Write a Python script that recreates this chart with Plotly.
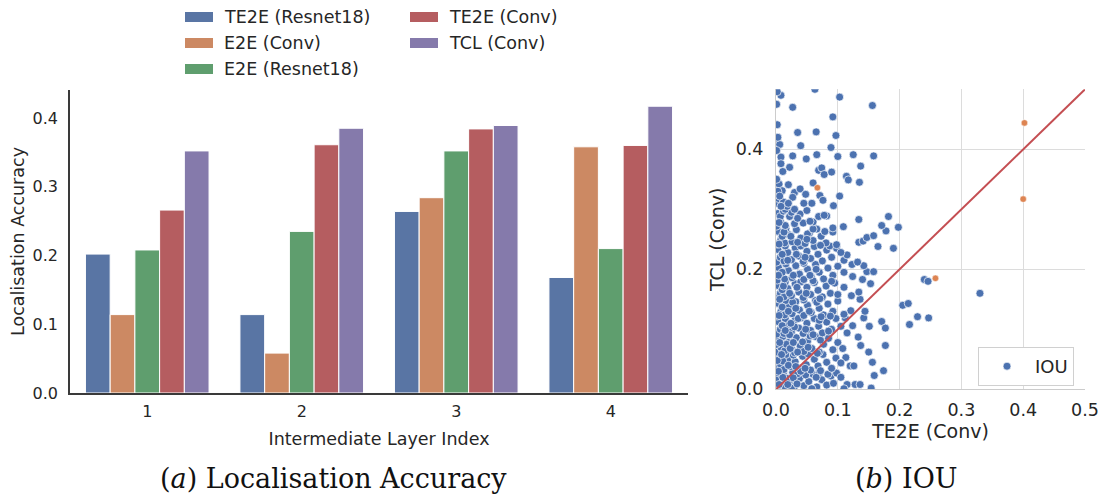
import plotly.graph_objects as go

W, H = 1101, 496

# ---- (a) localisation accuracy per intermediate layer ----
layers = [1, 2, 3, 4]
te2e_resnet18 = [0.202, 0.114, 0.264, 0.168]
e2e_conv = [0.114, 0.058, 0.284, 0.358]
e2e_resnet18 = [0.208, 0.235, 0.352, 0.210]
te2e_conv = [0.266, 0.361, 0.384, 0.360]
tcl_conv = [0.352, 0.385, 0.389, 0.417]

series_names = ["TE2E (Resnet18)", "E2E (Conv)", "E2E (Resnet18)", "TE2E (Conv)", "TCL (Conv)"]
series_values = [te2e_resnet18, e2e_conv, e2e_resnet18, te2e_conv, tcl_conv]
series_colors = ["#5975a4", "#cc8963", "#5f9e6e", "#b55d60", "#857aab"]

# ---- (b) per-sample IOU: TE2E (Conv) vs TCL (Conv) ----
iou_points = [
    # y 0.00 - 0.03
    (0.002, 0.004), (0.008, 0.012), (0.015, 0.003), (0.004, 0.022), (0.022, 0.014), (0.030, 0.005),
    (0.012, 0.027), (0.038, 0.018), (0.045, 0.006), (0.027, 0.028), (0.053, 0.013), (0.060, 0.025),
    (0.066, 0.004), (0.074, 0.016), (0.082, 0.007), (0.089, 0.022), (0.098, 0.027), (0.084, 0.025),
    (0.105, 0.020), (0.093, 0.010), (0.115, 0.008), (0.128, 0.008), (0.136, 0.008), (0.154, 0.002),
    (0.159, 0.023), (0.110, 0.001), (0.018, 0.018), (0.035, 0.026), (0.048, 0.024), (0.001, 0.015),
    (0.058, 0.001), (0.070, 0.028), (0.025, 0.002), (0.005, 0.008), (0.011, 0.020), (0.019, 0.008),
    (0.028, 0.019), (0.034, 0.009), (0.065, 0.020),
    # y 0.03 - 0.06
    (0.001, 0.035), (0.007, 0.042), (0.013, 0.033), (0.005, 0.055), (0.019, 0.050), (0.024, 0.038),
    (0.031, 0.046), (0.037, 0.035), (0.043, 0.055), (0.049, 0.041), (0.056, 0.032), (0.062, 0.050),
    (0.068, 0.039), (0.076, 0.058), (0.082, 0.045), (0.090, 0.035), (0.097, 0.052), (0.113, 0.053),
    (0.120, 0.039), (0.126, 0.039), (0.156, 0.045), (0.174, 0.031), (0.016, 0.058), (0.028, 0.057),
    (0.040, 0.030), (0.072, 0.031), (0.105, 0.044), (0.011, 0.047), (0.052, 0.059), (0.002, 0.048),
    (0.004, 0.030), (0.020, 0.040), (0.032, 0.038), (0.047, 0.035),
    # y 0.06 - 0.09
    (0.002, 0.062), (0.008, 0.070), (0.014, 0.064), (0.004, 0.083), (0.020, 0.078), (0.026, 0.066),
    (0.033, 0.086), (0.039, 0.072), (0.045, 0.063), (0.051, 0.080), (0.058, 0.068), (0.064, 0.088),
    (0.070, 0.062), (0.077, 0.075), (0.085, 0.085), (0.092, 0.066), (0.100, 0.078), (0.137, 0.073),
    (0.150, 0.062), (0.177, 0.073), (0.133, 0.087), (0.011, 0.088), (0.030, 0.061), (0.055, 0.089),
    (0.017, 0.075), (0.043, 0.079), (0.072, 0.082), (0.108, 0.068), (0.001, 0.075), (0.009, 0.058),
    (0.023, 0.068), (0.035, 0.062), (0.006, 0.078), (0.028, 0.078), (0.052, 0.070), (0.067, 0.060),
    # y 0.09 - 0.12
    (0.001, 0.092), (0.007, 0.100), (0.013, 0.093), (0.003, 0.113), (0.019, 0.108), (0.025, 0.096),
    (0.031, 0.116), (0.037, 0.102), (0.044, 0.093), (0.050, 0.110), (0.056, 0.098), (0.062, 0.118),
    (0.069, 0.105), (0.075, 0.094), (0.082, 0.112), (0.090, 0.100), (0.097, 0.118), (0.115, 0.094),
    (0.112, 0.119), (0.124, 0.106), (0.142, 0.119), (0.151, 0.105), (0.171, 0.113), (0.177, 0.102),
    (0.216, 0.108), (0.229, 0.121), (0.247, 0.119), (0.015, 0.118), (0.040, 0.119), (0.022, 0.091),
    (0.060, 0.091), (0.085, 0.097), (0.105, 0.105), (0.010, 0.106), (0.015, 0.098), (0.030, 0.104),
    (0.024, 0.110), (0.036, 0.118), (0.048, 0.100), (0.070, 0.115),
    # y 0.12 - 0.15
    (0.002, 0.122), (0.008, 0.130), (0.014, 0.124), (0.004, 0.143), (0.020, 0.138), (0.026, 0.126),
    (0.032, 0.146), (0.038, 0.132), (0.045, 0.123), (0.051, 0.140), (0.057, 0.128), (0.064, 0.148),
    (0.070, 0.135), (0.077, 0.124), (0.084, 0.142), (0.092, 0.130), (0.100, 0.147), (0.121, 0.131),
    (0.144, 0.130), (0.136, 0.150), (0.205, 0.140), (0.214, 0.143), (0.016, 0.148), (0.045, 0.149),
    (0.073, 0.121), (0.088, 0.122), (0.110, 0.125), (0.027, 0.145), (0.010, 0.137), (0.005, 0.123),
    (0.020, 0.130), (0.032, 0.135), (0.054, 0.130), (0.066, 0.145),
    # y 0.15 - 0.18
    (0.001, 0.152), (0.007, 0.160), (0.013, 0.154), (0.003, 0.173), (0.019, 0.168), (0.025, 0.156),
    (0.031, 0.176), (0.037, 0.162), (0.044, 0.153), (0.050, 0.170), (0.056, 0.158), (0.062, 0.178),
    (0.068, 0.165), (0.075, 0.154), (0.081, 0.172), (0.088, 0.160), (0.095, 0.177), (0.134, 0.162),
    (0.153, 0.176), (0.330, 0.160), (0.015, 0.179), (0.040, 0.179), (0.071, 0.151), (0.100, 0.158),
    (0.110, 0.170), (0.122, 0.156), (0.010, 0.166), (0.006, 0.150), (0.022, 0.160), (0.034, 0.170),
    (0.012, 0.172), (0.049, 0.160),
    # y 0.18 - 0.21
    (0.002, 0.182), (0.008, 0.190), (0.014, 0.184), (0.004, 0.203), (0.020, 0.198), (0.026, 0.186),
    (0.032, 0.206), (0.038, 0.192), (0.045, 0.183), (0.051, 0.200), (0.057, 0.188), (0.064, 0.208),
    (0.070, 0.195), (0.077, 0.184), (0.084, 0.202), (0.092, 0.190), (0.100, 0.205), (0.124, 0.188),
    (0.140, 0.183), (0.147, 0.196), (0.158, 0.196), (0.123, 0.208), (0.142, 0.206), (0.240, 0.183),
    (0.246, 0.180), (0.016, 0.209), (0.045, 0.210), (0.110, 0.195), (0.060, 0.181), (0.090, 0.180),
    (0.010, 0.195), (0.028, 0.190), (0.004, 0.190), (0.055, 0.190), (0.065, 0.200),
    # y 0.21 - 0.24
    (0.001, 0.212), (0.007, 0.220), (0.013, 0.214), (0.003, 0.233), (0.019, 0.228), (0.025, 0.216),
    (0.031, 0.236), (0.037, 0.222), (0.044, 0.213), (0.050, 0.230), (0.056, 0.218), (0.062, 0.238),
    (0.068, 0.225), (0.075, 0.214), (0.082, 0.232), (0.090, 0.220), (0.098, 0.235), (0.110, 0.215),
    (0.115, 0.224), (0.132, 0.212), (0.165, 0.238), (0.190, 0.235), (0.015, 0.239), (0.040, 0.239),
    (0.087, 0.239), (0.105, 0.228), (0.010, 0.225), (0.019, 0.215), (0.033, 0.225), (0.047, 0.220),
    # y 0.24 - 0.27
    (0.002, 0.242), (0.008, 0.250), (0.014, 0.244), (0.004, 0.263), (0.020, 0.258), (0.026, 0.246),
    (0.033, 0.266), (0.040, 0.252), (0.047, 0.243), (0.054, 0.260), (0.060, 0.248), (0.066, 0.267),
    (0.073, 0.255), (0.081, 0.244), (0.092, 0.262), (0.098, 0.241), (0.134, 0.245), (0.141, 0.247),
    (0.147, 0.253), (0.158, 0.256), (0.178, 0.264), (0.051, 0.259), (0.079, 0.263), (0.016, 0.268),
    (0.060, 0.267), (0.010, 0.255), (0.005, 0.242), (0.024, 0.255), (0.035, 0.245), (0.013, 0.262),
    (0.050, 0.250), (0.072, 0.240),
    # y 0.27 - 0.30
    (0.001, 0.272), (0.007, 0.280), (0.015, 0.273), (0.003, 0.293), (0.022, 0.288), (0.030, 0.276),
    (0.044, 0.277), (0.060, 0.279), (0.092, 0.269), (0.109, 0.271), (0.134, 0.283), (0.171, 0.273),
    (0.198, 0.270), (0.182, 0.288), (0.039, 0.292), (0.069, 0.288), (0.082, 0.289), (0.007, 0.288),
    (0.050, 0.298), (0.012, 0.297), (0.025, 0.295), (0.005, 0.278), (0.035, 0.285), (0.055, 0.280),
    (0.078, 0.290),
    # y above 0.30
    (0.063, 0.500), (0.008, 0.490), (0.002, 0.496), (0.103, 0.487), (0.027, 0.470), (0.156, 0.473),
    (0.092, 0.454), (0.002, 0.441), (0.035, 0.428), (0.065, 0.429), (0.097, 0.423), (0.002, 0.413),
    (0.006, 0.408), (0.040, 0.406), (0.089, 0.403), (0.008, 0.387), (0.027, 0.389), (0.049, 0.384),
    (0.066, 0.391), (0.100, 0.388), (0.125, 0.391), (0.158, 0.389), (0.137, 0.372), (0.008, 0.376),
    (0.022, 0.370), (0.011, 0.363), (0.069, 0.365), (0.074, 0.369), (0.078, 0.358), (0.090, 0.362),
    (0.114, 0.355), (0.117, 0.349), (0.135, 0.345), (0.005, 0.342), (0.020, 0.341), (0.060, 0.344),
    (0.010, 0.331), (0.030, 0.328), (0.039, 0.334), (0.048, 0.325), (0.027, 0.320), (0.071, 0.323),
    (0.103, 0.322), (0.076, 0.315), (0.015, 0.300), (0.093, 0.306), (0.001, 0.310), (0.004, 0.318),
    (0.012, 0.312), (0.001, 0.350), (0.003, 0.330), (0.018, 0.305), (0.008, 0.305), (0.058, 0.310),
    (0.045, 0.310), (0.001, 0.475), (0.001, 0.398), (0.003, 0.420), (0.020, 0.310), (0.006, 0.322),
    (0.030, 0.300),
]
highlight_points = [(0.067, 0.336), (0.258, 0.185), (0.402, 0.444), (0.400, 0.317)]

te2e_iou = [p[0] for p in iou_points]
tcl_iou = [p[1] for p in iou_points]
hl_te2e = [p[0] for p in highlight_points]
hl_tcl = [p[1] for p in highlight_points]
diag = [0.0, 0.5]

fig = go.Figure()

for name, vals, col in zip(series_names, series_values, series_colors):
    fig.add_trace(go.Bar(
        x=layers, y=vals, name=name, marker=dict(color=col, line=dict(color="white", width=1)),
        xaxis="x", yaxis="y", showlegend=False,
    ))

fig.add_trace(go.Scatter(
    x=te2e_iou, y=tcl_iou, mode="markers", name="IOU",
    marker=dict(color="#4c72b0", size=8, line=dict(color="white", width=0.7)),
    xaxis="x2", yaxis="y2", showlegend=True,
))
fig.add_trace(go.Scatter(
    x=hl_te2e, y=hl_tcl, mode="markers", name="highlight",
    marker=dict(color="#dd8452", size=6.5, line=dict(color="white", width=0.5)),
    xaxis="x2", yaxis="y2", showlegend=False,
))
fig.add_trace(go.Scatter(
    x=diag, y=diag, mode="lines", line=dict(color="#c44e52", width=2),
    xaxis="x2", yaxis="y2", showlegend=False,
))


def px(x):
    return x / W


def py(y):
    return 1 - y / H


# bar-chart legend, two columns
shapes = []
annotations = []
legend_slots = [(0, 0), (0, 1), (0, 2), (1, 0), (1, 1)]
col_x = [185, 410]
row_y = [17, 43, 69]
for (c, r), name, col in zip(legend_slots, series_names, series_colors):
    x0 = col_x[c]
    yc = row_y[r]
    shapes.append(dict(type="rect", xref="paper", yref="paper",
                       x0=px(x0), x1=px(x0 + 28), y0=py(yc + 5), y1=py(yc - 5),
                       fillcolor=col, line=dict(width=0)))
    annotations.append(dict(text=name, xref="paper", yref="paper", x=px(x0 + 37), y=py(yc),
                            xanchor="left", yanchor="middle", showarrow=False,
                            font=dict(size=17.5, color="#262626")))

serif = "DejaVu Serif, serif"
annotations.append(dict(text="(<i>a</i>) Localisation Accuracy", xref="paper", yref="paper",
                        x=px(333), y=py(478), xanchor="center", yanchor="middle",
                        showarrow=False, font=dict(size=27, family=serif, color="#111111")))
annotations.append(dict(text="(<i>b</i>) IOU", xref="paper", yref="paper",
                        x=px(906), y=py(478), xanchor="center", yanchor="middle",
                        showarrow=False, font=dict(size=27, family=serif, color="#111111")))

sans = "DejaVu Sans, sans-serif"
fig.update_layout(
    width=W, height=H,
    margin=dict(l=0, r=0, t=0, b=0),
    paper_bgcolor="white", plot_bgcolor="white",
    font=dict(family=sans, color="#262626"),
    barmode="group", bargap=0.2, bargroupgap=0,
    shapes=shapes, annotations=annotations,
    xaxis=dict(domain=[px(70), px(688)], anchor="y", range=[0.5, 4.5], automargin=False,
               tickvals=layers, ticktext=[str(v) for v in layers],
               showgrid=False, zeroline=False, showline=True, linecolor="#3a3a3a", linewidth=1.5,
               ticks="outside", ticklen=3, tickcolor="white", tickfont=dict(size=16),
               title=dict(text="Intermediate Layer Index", font=dict(size=17.5), standoff=13)),
    yaxis=dict(domain=[py(393), py(90)], anchor="x", range=[0, 0.4406], automargin=False,
               tickvals=[0, 0.1, 0.2, 0.3, 0.4], ticktext=["0.0", "0.1", "0.2", "0.3", "0.4"],
               showgrid=False, zeroline=False, showline=True, linecolor="#3a3a3a", linewidth=1.5,
               ticks="outside", ticklen=7, tickcolor="white", tickfont=dict(size=16),
               title=dict(text="Localisation Accuracy", font=dict(size=17.5), standoff=3)),
    xaxis2=dict(domain=[px(776), px(1085)], anchor="y2", range=[0, 0.5], automargin=False,
                tickvals=[0, 0.1, 0.2, 0.3, 0.4, 0.5],
                ticktext=["0.0", "0.1", "0.2", "0.3", "0.4", "0.5"],
                showgrid=True, gridcolor="#dcdcdc", gridwidth=1, zeroline=False,
                showline=True, linecolor="#cccccc", linewidth=1,
                ticks="outside", ticklen=5, tickcolor="white", tickfont=dict(size=17.5),
                title=dict(text="TE2E (Conv)", font=dict(size=19), standoff=4)),
    yaxis2=dict(domain=[py(389.3), py(89.3)], anchor="x2", range=[0, 0.5], automargin=False,
                tickvals=[0, 0.2, 0.4], ticktext=["0.0", "0.2", "0.4"],
                showgrid=True, gridcolor="#dcdcdc", gridwidth=1, zeroline=False,
                showline=True, linecolor="#cccccc", linewidth=1,
                ticks="outside", ticklen=8, tickcolor="white", tickfont=dict(size=17.5),
                title=dict(text="TCL (Conv)", font=dict(size=19), standoff=6)),
    legend=dict(x=px(978), y=py(347), xanchor="left", yanchor="top",
                orientation="v", itemwidth=46,
                bgcolor="white", bordercolor="#d0d0d0", borderwidth=1,
                font=dict(size=18, color="#262626")),
)

fig.write_html("out.html")
